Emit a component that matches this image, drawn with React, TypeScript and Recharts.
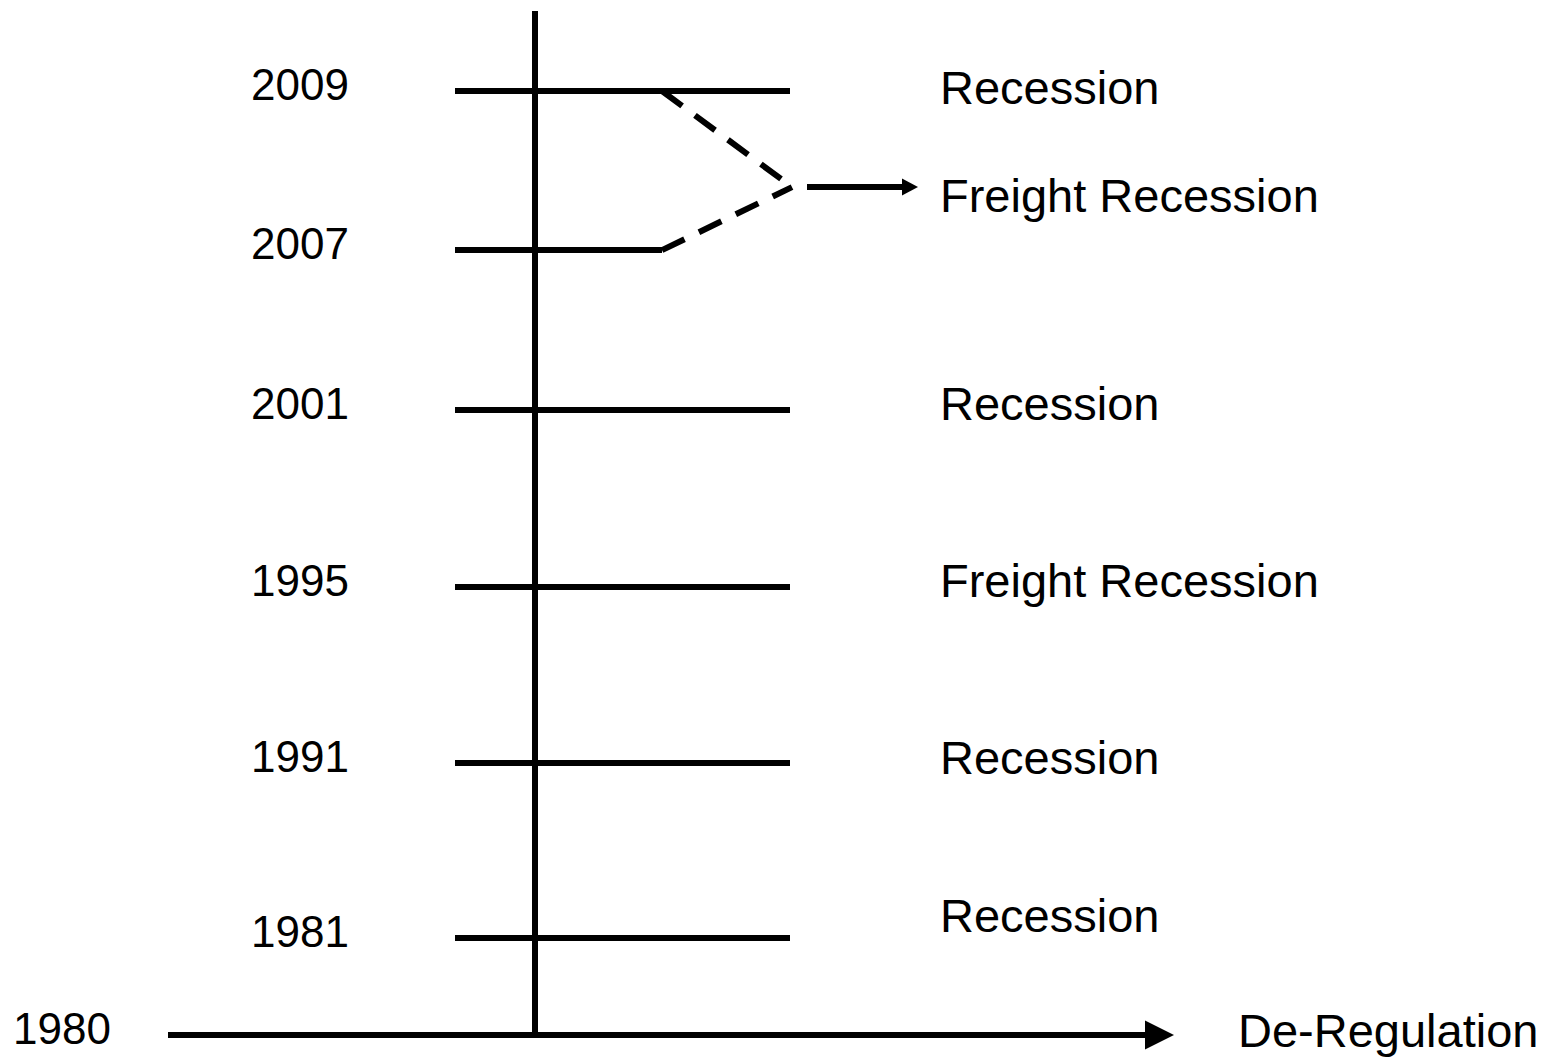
import { ComposedChart, Line, Scatter, XAxis, YAxis } from 'recharts';

// timeline rows, bottom (1980) to top (2009); levels are positions on the vertical axis
const years = ['1980', '1981', '1991', '1995', '2001', '2007', '2009'];
const yearLevels = [0, 0.551, 1.545, 2.545, 3.551, 4.46, 5.364];

// event labels on the right, with the level of their baseline
const eventLabels = ['De-Regulation', 'Recession', 'Recession', 'Freight Recession', 'Recession', 'Freight Recession', 'Recession'];
const eventLevels = [-0.068, 0.585, 1.483, 2.489, 3.494, 4.676, 5.29];

// 2007 and 2009 merge into one freight recession
const mergedYears = ['2007', '2009'];
const mergeLevel = 4.818;
const spineTop = 5.818;

const W = 1546;
const H = 1060;
const FONT = '"Liberation Sans", Arial, Helvetica, sans-serif';

// horizontal layout (chart units, 100px each, spine at 0)
const X_DOMAIN = [-5.35, 10.11];
const Y_DOMAIN = [-0.142, 5.881];
const BASE_START = -3.67;
const BASE_END = 6.1;
const TICK_START = -0.8;
const TICK_END = 2.55;
const SPLIT_X = 1.27;
const MERGE_X = 2.57;
const ARROW_START = 2.72;
const ARROW_END = 3.67;
const YEAR_X = -1.86;
const FIRST_YEAR_X = -4.24;
const EVENT_X = 4.05;
const BASE_LABEL_X = 7.03;
const YEAR_OFFSET = -0.051;

const arrowDot = (len: number, half: number) => (p: any) => {
  if (p.index !== 1) return <g key={`d-${p.index}`} />;
  return (
    <polygon
      key={`arrow-${p.index}`}
      points={`${p.cx},${p.cy - half} ${p.cx + len},${p.cy} ${p.cx},${p.cy + half}`}
      fill="#000"
    />
  );
};

const labelShape = (anchor: 'start' | 'end', size: number) => (p: any) => (
  <text
    x={p.cx}
    y={p.cy}
    textAnchor={anchor}
    fontSize={size}
    fontFamily={FONT}
    fill="#000"
  >
    {p.payload.text}
  </text>
);

export default function App() {
  const mergeIdx = mergedYears.map((y) => years.indexOf(y));
  const lowerMerged = Math.min(...mergeIdx);

  const ticks = years.slice(1).map((year, i) => {
    const lv = yearLevels[i + 1];
    const end = year === years[lowerMerged] ? SPLIT_X : TICK_END;
    return { key: `tick-${year}`, data: [{ x: TICK_START, y: lv }, { x: end, y: lv }] };
  });

  const dashes = mergeIdx.map((idx) => ({
    key: `dash-${years[idx]}`,
    data: [{ x: SPLIT_X, y: yearLevels[idx] }, { x: MERGE_X, y: mergeLevel }],
  }));

  const yearData = years.map((t, i) => ({
    x: i === 0 ? FIRST_YEAR_X : YEAR_X,
    y: yearLevels[i] + YEAR_OFFSET,
    text: t,
  }));

  const eventData = eventLabels.map((t, i) => ({
    x: i === 0 ? BASE_LABEL_X : EVENT_X,
    y: eventLevels[i],
    text: t,
  }));

  const common = {
    type: 'linear' as const,
    dataKey: 'y',
    stroke: '#000',
    strokeWidth: 6,
    isAnimationActive: false,
    activeDot: false,
    legendType: 'none' as const,
  };

  return (
    <div style={{ position: 'absolute', left: 0, top: 0, width: W, height: H, background: '#fff' }}>
      <ComposedChart width={W} height={H} margin={{ top: 0, right: 0, bottom: 0, left: 0 }}>
        <XAxis type="number" dataKey="x" domain={X_DOMAIN} allowDataOverflow hide />
        <YAxis type="number" dataKey="y" domain={Y_DOMAIN} allowDataOverflow hide />

        <Line
          {...common}
          data={[{ x: 0, y: 0 }, { x: 0, y: spineTop }]}
          dot={false}
        />
        <Line
          {...common}
          data={[{ x: BASE_START, y: 0 }, { x: BASE_END, y: 0 }]}
          dot={arrowDot(29, 14.5)}
        />
        {ticks.map((t) => (
          <Line key={t.key} {...common} data={t.data} dot={false} />
        ))}
        {dashes.map((d) => (
          <Line key={d.key} {...common} data={d.data} strokeDasharray="25 16" dot={false} />
        ))}
        <Line
          {...common}
          data={[{ x: ARROW_START, y: mergeLevel }, { x: ARROW_END, y: mergeLevel }]}
          dot={arrowDot(16, 8.5)}
        />

        <Scatter data={yearData} dataKey="y" shape={labelShape('end', 44)} isAnimationActive={false} />
        <Scatter data={eventData} dataKey="y" shape={labelShape('start', 47)} isAnimationActive={false} />
      </ComposedChart>
    </div>
  );
}
